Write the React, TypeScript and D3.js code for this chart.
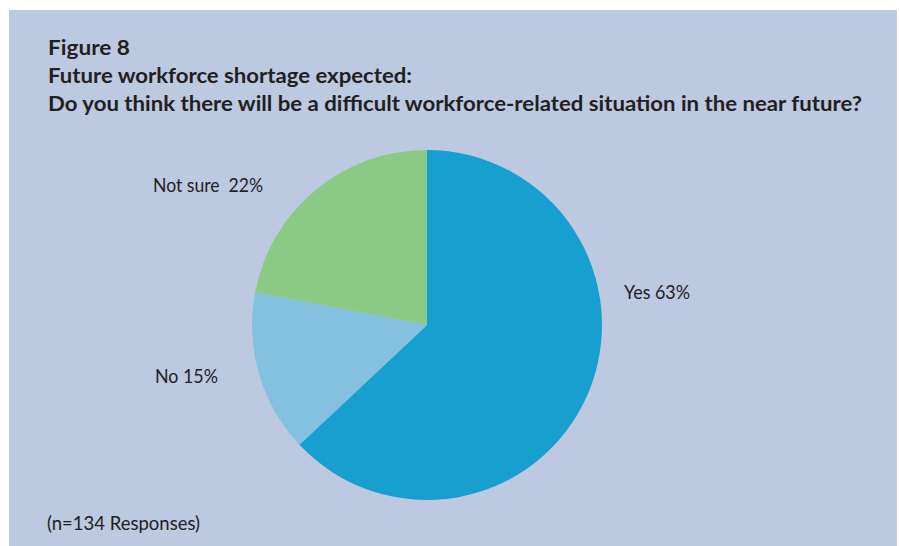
import { pie, arc } from 'd3'

// Figure 8: single pie, slices clockwise from 12 o'clock, labels set beside.

const categories = ['Yes', 'No', 'Not sure']
const shares = [63, 15, 22]
const labels = ['Yes 63%', 'No 15%', 'Not sure  22%']
const titleLines = [
  'Figure 8',
  'Future workforce shortage expected:',
  'Do you think there will be a difficult workforce-related situation in the near future?',
]
const note = '(n=134 Responses)'

const COLORS: Record<string, string> = {
  Yes: '#17a0cf',
  No: '#84c1e0',
  'Not sure': '#8bca85',
}
const BG = '#bdc8e1'
const INK = '#231f20'
const FONT = 'Lato, "Open Sans", "DejaVu Sans", sans-serif'

const W = 899
const H = 546

export default function App() {
  const data = categories.map((c, i) => ({ name: c, value: shares[i], label: labels[i] }))
  const cx = 427
  const cy = 325
  const r = 175
  const slices = pie<{ name: string; value: number; label: string }>()
    .sort(null)
    .value((d) => d.value)
    .startAngle(0)
    .endAngle(2 * Math.PI)(data)
  const a = arc<any>().innerRadius(0).outerRadius(r)

  const labelPos: Record<string, { x: number; y: number; w: number }> = {
    Yes: { x: 624, y: 299, w: 66 },
    No: { x: 155, y: 383, w: 63 },
    'Not sure': { x: 153, y: 192, w: 110 },
  }
  const titleW = [82, 364, 814]
  const titleY = [55, 83, 111]

  return (
    <svg
      width={W}
      height={H}
      viewBox={`0 0 ${W} ${H}`}
      style={{ position: 'fixed', left: 0, top: 0, background: '#fff' }}
    >
      <rect x={9} y={10} width={888} height={536} fill={BG} />
      {titleLines.map((t, i) => (
        <text
          key={i}
          x={48}
          y={titleY[i]}
          fontFamily={FONT}
          fontWeight={700}
          fontSize={21.5}
          fill={INK}
          textLength={titleW[i]}
          lengthAdjust="spacingAndGlyphs"
        >
          {t}
        </text>
      ))}
      <g transform={`translate(${cx},${cy})`}>
        {slices.map((s) => (
          <path key={s.data.name} d={a(s) ?? ''} fill={COLORS[s.data.name]} />
        ))}
      </g>
      {data.map((d) => {
        const p = labelPos[d.name]
        return (
          <text
            key={d.name}
            x={p.x}
            y={p.y}
            fontFamily={FONT}
            fontSize={19}
            fill={INK}
            textLength={p.w}
            lengthAdjust="spacingAndGlyphs"
            style={{ whiteSpace: 'pre' }}
          >
            {d.label}
          </text>
        )
      })}
      <text
        x={47}
        y={530}
        fontFamily={FONT}
        fontSize={19}
        fill={INK}
        textLength={153}
        lengthAdjust="spacingAndGlyphs"
      >
        {note}
      </text>
    </svg>
  )
}
